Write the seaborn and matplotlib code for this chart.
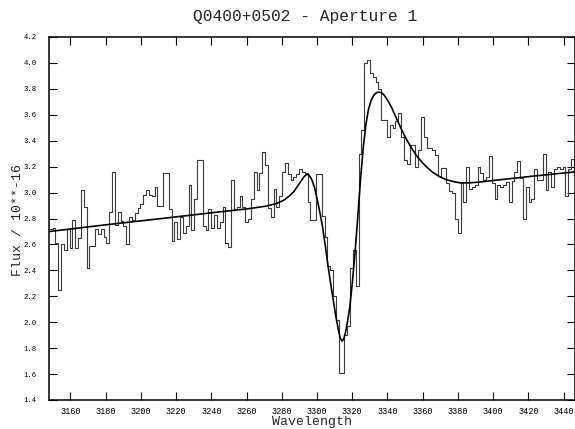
import numpy as np
import pandas as pd
import matplotlib
matplotlib.use("Agg")
import matplotlib.pyplot as plt
import seaborn as sns

# Binned spectrum (flux in units of 1e-16), uniform bins from 3148.2 A
bin_start = 3148.2
bin_width = 1.609

flux_blue = [2.72, 2.73, 2.61, 2.25, 2.60, 2.56, 2.72, 2.57, 2.79, 2.57,
             2.65, 3.02, 2.89, 2.42, 2.59, 2.59, 2.72, 2.68, 2.72, 2.66,
             2.61, 2.85, 3.16, 2.75, 2.85, 2.78, 2.74, 2.60, 2.81, 2.79,
             2.84, 2.88, 2.91, 2.985, 3.02, 2.985, 2.97, 3.04, 2.90, 2.90,
             3.15, 3.15, 2.87, 2.63, 2.77, 2.64, 2.81]
flux_mid = [2.69, 2.74, 3.06, 2.71, 2.95, 3.25, 3.25, 2.74, 2.71,
            2.87, 2.73, 2.83, 2.73, 2.77, 2.89, 2.61, 2.58, 3.10, 2.87,
            2.89, 2.97, 2.89, 2.77, 2.80, 2.95, 3.16, 3.02, 3.15, 3.31,
            3.21, 2.88, 2.81, 3.03, 2.89, 2.97, 3.16, 3.23, 3.14, 3.10,
            3.12, 3.14, 3.18, 3.16]
flux_absorption = [3.15, 2.93, 2.79, 2.79, 3.14, 3.14, 2.82, 2.66, 2.43, 2.40,
                   2.20, 2.02, 1.61, 1.61, 1.90, 1.97, 2.42, 2.56, 2.28, 3.30]
flux_emission = [3.48, 4.00, 4.02, 3.92, 3.89, 3.85, 3.80, 3.56, 3.56, 3.43,
                 3.52, 3.50, 3.55, 3.61, 3.43, 3.25, 3.22, 3.37, 3.37, 3.20,
                 3.33, 3.58, 3.43, 3.34, 3.34, 3.33, 3.29, 3.13]
flux_red = [3.19, 3.19, 3.07, 3.01, 3.00, 2.80, 2.69, 3.07, 2.93, 3.20,
            3.03, 3.04, 3.06, 3.20, 3.15, 3.10, 3.12, 3.28, 3.07, 2.95,
            3.06, 3.04, 3.06, 3.08, 2.93, 3.09, 3.16, 3.24, 3.11, 2.80,
            3.04, 2.93, 2.95, 3.18, 3.10, 3.10, 3.30, 3.02, 3.16, 3.04,
            3.18, 3.20, 3.18, 3.20, 2.97, 3.18, 3.26, 3.16]

# Fitted profile (continuum + P Cygni line)
model_wave = [3148.2, 3180.4, 3210.6, 3240.7, 3260.8, 3270.9, 3276.9, 3281.0, 3284.0, 3287.0,
              3289.0, 3291.0, 3292.5, 3294.0, 3295.5, 3297.05, 3298.56, 3300.07, 3301.58, 3303.09,
              3304.6, 3306.1, 3307.6, 3309.12, 3310.63, 3312.14, 3313.14, 3314.15, 3315.15, 3316.16,
              3317.14, 3318.65, 3320.16, 3321.67, 3323.2, 3324.7, 3326.2, 3327.7, 3329.2, 3330.7,
              3332.2, 3333.7, 3335.2, 3336.7, 3338.2, 3340.2, 3342.2, 3344.2, 3346.2, 3348.2,
              3351.2, 3354.3, 3357.3, 3361.3, 3365.3, 3369.3, 3373.3, 3377.3, 3381.3, 3386.4,
              3391.4, 3401.4, 3421.5, 3446.7]
model_flux = [2.700, 2.752, 2.798, 2.845, 2.875, 2.895, 2.915, 2.940, 2.970, 3.010,
              3.050, 3.090, 3.120, 3.140, 3.135, 3.100, 3.040, 2.950, 2.850, 2.740,
              2.600, 2.450, 2.310, 2.180, 2.050, 1.940, 1.880, 1.855, 1.870, 1.920,
              1.990, 2.120, 2.320, 2.550, 2.820, 3.100, 3.340, 3.520, 3.640, 3.710,
              3.750, 3.770, 3.775, 3.770, 3.750, 3.710, 3.660, 3.600, 3.540, 3.480,
              3.400, 3.330, 3.270, 3.210, 3.160, 3.125, 3.100, 3.085, 3.075, 3.075,
              3.080, 3.095, 3.125, 3.160]

x_ticks = list(range(3160, 3441, 20))
y_ticks = [1.4, 1.6, 1.8, 2.0, 2.2, 2.4, 2.6, 2.8, 3.0, 3.2, 3.4, 3.6, 3.8, 4.0, 4.2]

title = "Q0400+0502 - Aperture 1"
x_label = "Wavelength"
y_label = "Flux / 10**-16"

sns.set_theme(style="ticks")
mono = ["Liberation Mono", "DejaVu Sans Mono"]
plt.rcParams["font.family"] = mono

flux = flux_blue + flux_mid + flux_absorption + flux_emission + flux_red
n_bins = len(flux)
edges = bin_start + bin_width * np.arange(n_bins + 1)
spec = pd.DataFrame({"wave": edges, "flux": flux + [flux[-1]]})
fit = pd.DataFrame({"wave": model_wave, "flux": model_flux})

fig = plt.figure(figsize=(5.75, 4.29), dpi=100)
ax = fig.add_axes([49 / 575, 1 - 400 / 429, 1 - 49 / 575, (400 - 37) / 429])

sns.lineplot(data=spec, x="wave", y="flux", ax=ax, drawstyle="steps-post",
             color="#3a3a3a", linewidth=0.8, sort=False, estimator=None)
sns.lineplot(data=fit, x="wave", y="flux", ax=ax, color="black",
             linewidth=1.2, sort=False, estimator=None)

ax.set_xlim(3147.8, 3446.5)
ax.set_ylim(1.4, 4.2)
ax.set_xticks(x_ticks)
ax.set_yticks(y_ticks)
ax.set_xticklabels([str(t) for t in x_ticks], fontsize=6.2)
ax.set_yticklabels([f"{t:.1f}" for t in y_ticks], fontsize=5.2)
ax.tick_params(direction="in", top=True, right=True, length=6, width=0.8,
               colors="black")
ax.tick_params(axis="x", pad=5)
ax.tick_params(axis="y", pad=9)

for side in ax.spines.values():
    side.set_linewidth(1.1)
    side.set_color("black")

ax.set_xlabel("")
ax.set_ylabel("")
fig.text(312 / 575, 1 - 422 / 429, x_label, ha="center", va="center",
         fontsize=9.5, family=mono)
fig.text(18 / 575, 1 - 220 / 429, y_label, ha="center", va="center",
         rotation=90, fontsize=9.5, family=mono)
fig.text(305 / 575, 1 - 17 / 429, title, ha="center", va="center",
         fontsize=11.7, family=mono)

fig.savefig("out.png", dpi=100)
